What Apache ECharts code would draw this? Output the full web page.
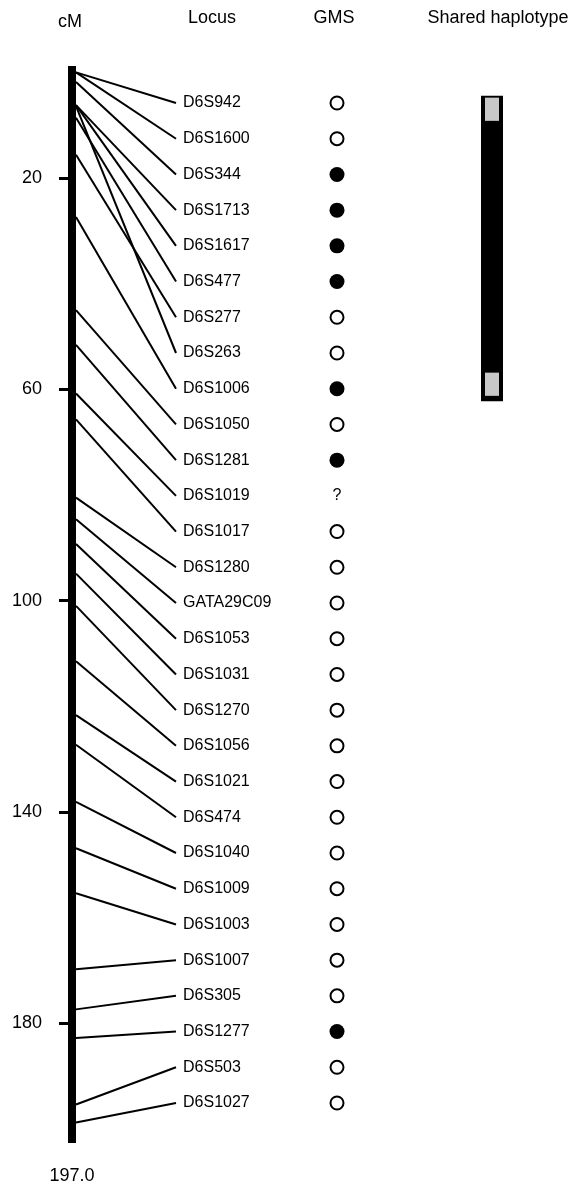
<!DOCTYPE html>
<html><head><meta charset="utf-8">
<script src="https://cdn.jsdelivr.net/npm/echarts@6/dist/echarts.min.js"></script>
<style>html,body{margin:0;padding:0;background:#fff}#c{width:574px;height:1185px}</style>
</head><body><div id="c"></div>
<script>
// ---- data ----
const loci = ['D6S942','D6S1600','D6S344','D6S1713','D6S1617','D6S477','D6S277','D6S263','D6S1006','D6S1050',
  'D6S1281','D6S1019','D6S1017','D6S1280','GATA29C09','D6S1053','D6S1031','D6S1270','D6S1056','D6S1021',
  'D6S474','D6S1040','D6S1009','D6S1003','D6S1007','D6S305','D6S1277','D6S503','D6S1027'];
const positionCM = [0, 0, 1.8, 6.2, 6.2, 8.6, 15.6, 6.4, 27.4, 45.0,
  51.6, 60.8, 65.7, 80.5, 84.6, 89.3, 94.9, 101.0, 111.5, 121.7,
  127.3, 138.1, 146.9, 155.4, 169.8, 177.4, 182.8, 195.4, 198.8];
const gmsStatus = ['open','open','filled','filled','filled','filled','open','open','filled','open',
  'filled','unknown','open','open','open','open','open','open','open','open',
  'open','open','open','open','open','open','filled','open','open'];
const cMTicks = [20, 60, 100, 140, 180];
const totalLength = '197.0';
const headers = ['cM', 'Locus', 'GMS', 'Shared haplotype'];
const haplotypeRows = [-0.2, 8.35];            // shared haplotype span (in locus rows)
const haplotypeUncertain = [[-0.15, 0.5], [7.55, 8.2]];

// ---- layout ----
const FONT = '"Liberation Sans", Arial, Helvetica, sans-serif';
const CM_MIN = -1.21, CM_MAX = 202.7, ROW_MIN = -1.036, ROW_MAX = 29.12;
const chart = echarts.init(document.getElementById('c'), null, {renderer: 'canvas'});

function cmToY(v, cs) {
  let p = null;
  try { p = chart.convertToPixel({yAxisIndex: 0}, v); } catch (e) {}
  if (typeof p === 'number' && isFinite(p)) return p;
  return cs.y + (v - CM_MIN) / (CM_MAX - CM_MIN) * cs.height;
}

const locusData = loci.map((n, i) => [0, i, positionCM[i]]);

function renderLocus(params, api) {
  const cs = params.coordSys;
  const x0 = cs.x;
  const i = params.dataIndex;
  const rowY = api.coord([0, api.value(1)])[1];
  const barY = cmToY(api.value(2), cs);
  const children = [
    {type: 'line', shape: {x1: x0 + 4, y1: barY, x2: x0 + 104, y2: rowY},
     style: {stroke: '#000', lineWidth: 2}},
    {type: 'text', style: {text: loci[i], x: x0 + 111, y: rowY, verticalAlign: 'middle', align: 'left',
     font: '16px ' + FONT, fill: '#000'}}
  ];
  const gx = x0 + 265;
  const s = gmsStatus[i];
  if (s === 'filled') {
    children.push({type: 'circle', shape: {cx: gx, cy: rowY, r: 7.5}, style: {fill: '#000'}});
  } else if (s === 'open') {
    children.push({type: 'circle', shape: {cx: gx, cy: rowY, r: 6.5}, style: {fill: '#fff', stroke: '#000', lineWidth: 2}});
  } else {
    children.push({type: 'text', style: {text: '?', x: gx, y: rowY, align: 'center', verticalAlign: 'middle',
      font: '16px ' + FONT, fill: '#000'}});
  }
  return {type: 'group', children};
}

const hapData = [[0, haplotypeRows[0], haplotypeRows[1], 0]]
  .concat(haplotypeUncertain.map(r => [0, r[0], r[1], 1]));

function renderHap(params, api) {
  const cs = params.coordSys;
  const y1 = api.coord([0, api.value(1)])[1];
  const y2 = api.coord([0, api.value(2)])[1];
  const grey = api.value(3) === 1;
  const x = grey ? cs.x + 413 : cs.x + 409;
  const w = grey ? 14 : 22;
  return {type: 'rect', shape: {x, y: y1, width: w, height: y2 - y1},
    style: {fill: grey ? '#c8c8c8' : '#000'}};
}

const option = {
  animation: false,
  backgroundColor: '#fff',
  grid: {left: 72, right: 0, top: 66, bottom: 42, containLabel: false, outerBoundsMode: 'none'},
  xAxis: {type: 'value', min: 0, max: 1, show: false},
  yAxis: [
    {type: 'value', inverse: true, min: CM_MIN, max: CM_MAX, position: 'left',
     axisLine: {show: true, onZero: false, lineStyle: {color: '#000', width: 8, cap: 'butt'}},
     axisTick: {show: true, customValues: cMTicks, length: 13, inside: false, lineStyle: {color: '#000', width: 3}},
     axisLabel: {show: true, customValues: cMTicks, margin: 30, color: '#000', fontSize: 18, fontFamily: FONT},
     splitLine: {show: false}},
    {type: 'value', inverse: true, min: ROW_MIN, max: ROW_MAX, show: false}
  ],
  graphic: [
    {type: 'text', left: null, x: 70, y: 22, style: {text: headers[0], align: 'center', verticalAlign: 'middle', font: '18px ' + FONT, fill: '#000'}},
    {type: 'text', x: 212, y: 18, style: {text: headers[1], align: 'center', verticalAlign: 'middle', font: '18px ' + FONT, fill: '#000'}},
    {type: 'text', x: 334, y: 18, style: {text: headers[2], align: 'center', verticalAlign: 'middle', font: '18px ' + FONT, fill: '#000'}},
    {type: 'text', x: 498, y: 18, style: {text: headers[3], align: 'center', verticalAlign: 'middle', font: '18px ' + FONT, fill: '#000'}},
    {type: 'text', x: 72, y: 1176, style: {text: totalLength, align: 'center', verticalAlign: 'middle', font: '18px ' + FONT, fill: '#000'}}
  ],
  series: [
    {type: 'custom', xAxisIndex: 0, yAxisIndex: 1, renderItem: renderHap, data: hapData, silent: true},
    {type: 'custom', xAxisIndex: 0, yAxisIndex: 1, renderItem: renderLocus, data: locusData, silent: true, clip: false}
  ]
};
chart.setOption(option);
</script>
</body></html>
